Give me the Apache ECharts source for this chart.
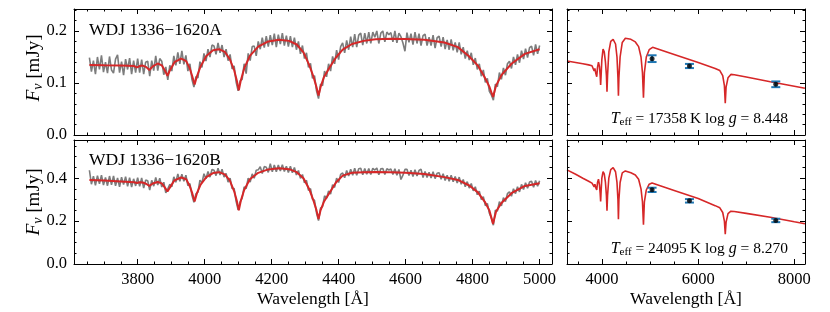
<!DOCTYPE html>
<html><head><meta charset="utf-8">
<script src="https://cdn.jsdelivr.net/npm/echarts@6/dist/echarts.min.js"></script>
<style>html,body{margin:0;padding:0;background:#fff}#c{width:830px;height:312px}</style>
</head><body><div id="c"></div>
<script>
// ---------------- DATA ----------------
const specStart = 3656, specStep = 6;   // observed spectra sampling (Angstrom)
const specA = [
.149,.122,.143,.117,.150,.126,.153,.121,.140,.119,
.151,.125,.119,.146,.154,.120,.141,.115,.146,.126,
.148,.117,.143,.120,.147,.120,.145,.117,.140,.142,
.113,.143,.124,.152,.124,.147,.142,.116,.131,.106,
.134,.123,.152,.134,.159,.137,.162,.136,.153,.123,
.137,.107,.092,.112,.110,.141,.130,.157,.142,.165,
.150,.173,.171,.155,.177,.158,.173,.150,.165,.143,
.155,.127,.133,.102,.085,.104,.107,.137,.118,.157,
.143,.170,.171,.152,.180,.165,.187,.168,.190,.170,
.192,.173,.195,.169,.193,.175,.196,.172,.191,.170,
.190,.169,.187,.164,.180,.156,.172,.147,.158,.130,
.138,.109,.114,.085,.070,.098,.095,.123,.112,.137,
.123,.151,.137,.163,.145,.170,.177,.158,.182,.164,
.189,.169,.194,.169,.192,.196,.173,.196,.176,.198,
.176,.198,.188,.200,.176,.196,.200,.179,.198,.193,
.197,.179,.200,.177,.196,.189,.177,.161,.197,.178,
.195,.174,.198,.176,.195,.172,.191,.194,.172,.188,
.172,.192,.167,.187,.190,.170,.188,.165,.183,.164,
.184,.163,.178,.159,.178,.155,.169,.147,.162,.144,
.158,.135,.148,.126,.137,.113,.125,.101,.109,.084,
.077,.067,.098,.093,.120,.107,.129,.115,.137,.142,
.128,.150,.135,.155,.139,.162,.146,.166,.149,.168,
.171,.153,.174,.156,.172];
const specB = [
.437,.372,.409,.367,.412,.374,.414,.368,.403,.365,
.410,.369,.411,.364,.401,.360,.405,.370,.407,.362,
.402,.359,.397,.364,.402,.362,.401,.354,.391,.388,
.345,.390,.363,.403,.368,.400,.359,.381,.332,.350,
.372,.360,.406,.381,.420,.385,.419,.386,.414,.365,
.375,.322,.288,.327,.335,.391,.378,.421,.397,.431,
.405,.441,.437,.412,.447,.415,.442,.405,.422,.382,
.400,.352,.352,.292,.252,.290,.307,.359,.352,.400,
.382,.420,.400,.437,.439,.454,.422,.454,.451,.427,
.468,.430,.462,.430,.462,.434,.463,.431,.456,.427,
.456,.425,.450,.415,.436,.399,.417,.379,.390,.343,
.351,.302,.297,.238,.202,.260,.267,.318,.306,.341,
.326,.370,.357,.400,.380,.418,.424,.402,.436,.410,
.442,.414,.446,.414,.444,.446,.416,.445,.418,.445,
.417,.446,.438,.447,.416,.444,.445,.417,.444,.438,
.443,.417,.444,.414,.441,.394,.414,.441,.442,.413,
.437,.408,.439,.410,.436,.442,.403,.431,.403,.427,
.401,.430,.398,.423,.425,.395,.421,.389,.414,.386,
.414,.383,.408,.378,.405,.372,.394,.360,.384,.354,
.375,.341,.360,.323,.340,.300,.314,.272,.282,.237,
.215,.181,.251,.247,.291,.271,.309,.291,.328,.337,
.316,.351,.328,.360,.336,.371,.347,.379,.353,.382,
.386,.358,.389,.362,.388];

// best-fit model spectra [wavelength, flux]
const modelA = [[3656,.1345],[3700,.1340],[3750,.1335],[3790,.1325],[3798,.1300],[3806,.1325],[3815,.1335],[3825,.1310],[3835,.1250],[3845,.1320],[3860,.1375],[3872,.1340],[3882,.1230],[3889,.1140],[3896,.1240],[3910,.1400],[3930,.1470],[3945,.1420],[3955,.1290],[3963,.1130],[3970,.0970],[3977,.1130],[3988,.1320],[4005,.1520],[4025,.1630],[4043,.1650],[4060,.1600],[4075,.1460],[4088,.1250],[4096,.1050],[4102,.0860],[4108,.1050],[4118,.1280],[4135,.1520],[4160,.1700],[4190,.1800],[4222,.1830],[4252,.1810],[4275,.1740],[4295,.1590],[4312,.1350],[4325,.1120],[4334,.0920],[4340,.0760],[4346,.0920],[4356,.1110],[4372,.1290],[4392,.1490],[4412,.1640],[4440,.1750],[4475,.1810],[4510,.1840],[4556,.1850],[4600,.1845],[4656,.1830],[4716,.1780],[4756,.1690],[4790,.1510],[4815,.1340],[4836,.1110],[4850,.0930],[4861,.0730],[4870,.0950],[4886,.1150],[4916,.1370],[4956,.1560],[5000,.1650]];
const modelB = [[3656,.392],[3700,.389],[3750,.385],[3790,.381],[3798,.378],[3806,.381],[3815,.380],[3825,.374],[3835,.364],[3845,.375],[3860,.382],[3872,.376],[3882,.355],[3889,.338],[3896,.356],[3910,.390],[3930,.403],[3945,.395],[3955,.365],[3963,.330],[3970,.291],[3977,.330],[3988,.370],[4005,.405],[4025,.424],[4043,.428],[4060,.418],[4075,.390],[4088,.340],[4096,.295],[4102,.250],[4108,.295],[4118,.345],[4135,.395],[4160,.425],[4190,.441],[4222,.446],[4252,.442],[4275,.428],[4295,.400],[4312,.350],[4325,.295],[4334,.250],[4340,.210],[4346,.250],[4356,.290],[4372,.330],[4392,.380],[4412,.412],[4440,.425],[4475,.428],[4510,.429],[4556,.428],[4600,.425],[4656,.419],[4716,.405],[4756,.392],[4790,.366],[4815,.335],[4836,.291],[4850,.250],[4861,.187],[4870,.245],[4886,.284],[4916,.330],[4956,.364],[5000,.376]];

// model SEDs [wavelength, flux]
const sedA = [[3270,.1423],[3450,.1395],[3600,.1370],[3720,.1348],[3790,.1333],[3800,.130],[3810,.132],[3835,.123],[3850,.128],[3870,.118],[3889,.112],[3905,.130],[3925,.140],[3945,.132],[3960,.115],[3970,.096],[3980,.115],[3995,.145],[4020,.165],[4045,.160],[4070,.140],[4090,.115],[4102,.083],[4114,.115],[4140,.160],[4180,.180],[4230,.184],[4280,.175],[4310,.150],[4330,.110],[4340,.0756],[4350,.110],[4375,.150],[4420,.178],[4484,.186],[4600,.184],[4692,.179],[4760,.170],[4810,.150],[4840,.120],[4861,.0718],[4880,.120],[4920,.150],[4980,.164],[5051,.1686],[5500,.1547],[6000,.1392],[6353,.128],[6450,.124],[6510,.114],[6545,.095],[6563,.061],[6580,.092],[6620,.110],[6680,.1165],[6750,.116],[7000,.1115],[7500,.1025],[8000,.0938],[8220,.0898]];
const sedB = [[3270,.4386],[3450,.418],[3600,.400],[3720,.386],[3790,.377],[3800,.372],[3810,.376],[3835,.360],[3850,.372],[3870,.355],[3889,.3456],[3905,.380],[3925,.395],[3945,.370],[3960,.330],[3970,.291],[3980,.340],[3995,.400],[4020,.431],[4045,.420],[4070,.380],[4090,.320],[4102,.248],[4114,.320],[4140,.400],[4180,.440],[4230,.449],[4280,.430],[4310,.380],[4330,.300],[4340,.209],[4350,.300],[4375,.380],[4420,.425],[4484,.434],[4600,.425],[4692,.415],[4760,.395],[4810,.350],[4840,.290],[4861,.183],[4880,.290],[4920,.345],[4980,.372],[5040,.378],[5500,.343],[6000,.305],[6353,.272],[6450,.262],[6510,.240],[6545,.200],[6563,.1395],[6580,.195],[6620,.235],[6680,.246],[6750,.245],[7000,.236],[7500,.218],[8000,.197],[8220,.188]];

// photometry
const photWave = [5040, 5818, 7614];
const photFluxA = [0.1468, 0.1327, 0.0975];
const photErrA = [0.0065, 0.004, 0.0055];
const photFluxB = [0.3456, 0.2944, 0.2030];
const photErrB = [0.010, 0.008, 0.008];

const names = ['WDJ 1336\u22121620A', 'WDJ 1336\u22121620B'];
const teff = ['17358', '24095'];
const logg = ['8.448', '8.270'];
const xTicksLeft = {min: 3610, max: 5037, major: 200, minor: 50};
const xTicksRight = {min: 3270, max: 8222, major: 2000, minor: 500};
const yTicksTop = {min: 0, max: 0.2423, major: 0.1, minor: 0.02};
const yTicksBot = {min: 0, max: 0.578, major: 0.2, minor: 0.05};

// ---------------- CHART ----------------
const FONT = '"Liberation Serif","DejaVu Serif",serif';
const RED = '#d62728', GRAY = '#7c7c7c', BLUE = '#1f77b4';
const chart = echarts.init(document.getElementById('c'), null, {renderer: 'canvas'});

const grids = [
  {left: 74, top: 9, width: 478, height: 126},
  {left: 74, top: 140, width: 478, height: 124},
  {left: 567, top: 9, width: 238, height: 126},
  {left: 567, top: 140, width: 238, height: 124}
].map(g => Object.assign({containLabel: false, outerBoundsMode: 'none'}, g));

const xAxis = [], yAxis = [];
const isMult = (v, s) => Math.abs(v / s - Math.round(v / s)) < 1e-6;

function axisSet(dim, gi, t, opts) {
  const list = dim === 'x' ? xAxis : yAxis;
  const positions = dim === 'x' ? ['bottom', 'top'] : ['left', 'right'];
  let mainIdx = -1;
  positions.forEach((pos, pi) => {
    [t.major, t.minor].forEach((step, si) => {
      const isMain = pi === 0 && si === 0;
      const ax = {
        type: 'value', gridIndex: gi, position: pos, min: t.min, max: t.max,
        minInterval: step, maxInterval: step,
        splitNumber: Math.max(1, Math.round((t.max - t.min) / step)),
        axisLine: {show: si === 0, onZero: false, lineStyle: {color: '#000', width: 1}},
        axisTick: {show: true, inside: true, length: si === 0 ? 5 : 2.5, lineStyle: {color: '#000', width: 1}},
        axisLabel: {show: false},
        splitLine: {show: false},
        z: 5
      };
      if (isMain && opts.labels) {
        ax.axisLabel = {
          show: true, margin: 7, color: '#000', fontFamily: FONT, fontSize: 16.5,
          showMinLabel: true, showMaxLabel: true,
          formatter: v => isMult(v, t.major) ? (dim === 'x' ? String(Math.round(v)) : v.toFixed(1)) : ''
        };
      }
      if (isMain && opts.name) {
        ax.name = opts.name;
        ax.nameLocation = 'middle';
        ax.nameGap = opts.nameGap;
        ax.nameMoveOverlap = false;
        ax.nameTextStyle = {color: '#000', fontFamily: FONT, fontSize: 17.5};
      }
      list.push(ax);
      if (isMain) mainIdx = list.length - 1;
    });
  });
  return mainIdx;
}

const WL = 'Wavelength [\u00c5]';
const ax = [
  {x: axisSet('x', 0, xTicksLeft, {labels: false}), y: axisSet('y', 0, yTicksTop, {labels: true})},
  {x: axisSet('x', 1, xTicksLeft, {labels: true, name: WL, nameGap: 26}), y: axisSet('y', 1, yTicksBot, {labels: true})},
  {x: axisSet('x', 2, xTicksRight, {labels: false}), y: axisSet('y', 2, yTicksTop, {labels: false})},
  {x: axisSet('x', 3, xTicksRight, {labels: true, name: WL, nameGap: 26}), y: axisSet('y', 3, yTicksBot, {labels: false})}
];

const specPts = arr => arr.map((f, i) => [specStart + i * specStep, f]);
const lineS = (k, data, color, width, z) => ({
  type: 'line', xAxisIndex: ax[k].x, yAxisIndex: ax[k].y, data: data,
  showSymbol: false, symbol: 'none', clip: true, animation: false, z: z,
  lineStyle: {color: color, width: width}, silent: true
});

function errSeries(k, flux, err) {
  return {
    type: 'custom', xAxisIndex: ax[k].x, yAxisIndex: ax[k].y, z: 8, animation: false,
    data: photWave.map((w, i) => [w, flux[i], err[i]]),
    renderItem: function (params, api) {
      const x = api.value(0), y = api.value(1), e = api.value(2);
      const p0 = api.coord([x, y - e]), p1 = api.coord([x, y + e]);
      const c = 4.5, st = {stroke: BLUE, lineWidth: 2};
      return {type: 'group', children: [
        {type: 'line', shape: {x1: p0[0], y1: p0[1], x2: p1[0], y2: p1[1]}, style: st},
        {type: 'line', shape: {x1: p0[0] - c, y1: p0[1], x2: p0[0] + c, y2: p0[1]}, style: st},
        {type: 'line', shape: {x1: p1[0] - c, y1: p1[1], x2: p1[0] + c, y2: p1[1]}, style: st}
      ]};
    }
  };
}
const dotS = (k, flux) => ({
  type: 'scatter', xAxisIndex: ax[k].x, yAxisIndex: ax[k].y, z: 9, animation: false,
  symbol: 'circle', symbolSize: 5, itemStyle: {color: '#000'},
  data: photWave.map((w, i) => [w, flux[i]])
});

const series = [
  lineS(0, specPts(specA), GRAY, 1.6, 2),
  lineS(0, modelA, RED, 2, 3),
  lineS(1, specPts(specB), GRAY, 1.6, 2),
  lineS(1, modelB, RED, 2, 3),
  lineS(2, sedA, RED, 1.6, 3),
  errSeries(2, photFluxA, photErrA), dotS(2, photFluxA),
  lineS(3, sedB, RED, 1.6, 3),
  errSeries(3, photFluxB, photErrB), dotS(3, photFluxB)
];

const richF = {
  i: {fontFamily: FONT, fontStyle: 'italic', fontSize: 19.5, color: '#000'},
  s: {fontFamily: FONT, fontStyle: 'italic', fontSize: 14, color: '#000', padding: [8, 0, 0, 0]},
  n: {fontFamily: FONT, fontSize: 19, color: '#000'}
};
const richT = {
  i: {fontFamily: FONT, fontStyle: 'italic', fontSize: 16, color: '#000'},
  s: {fontFamily: FONT, fontSize: 11, color: '#000', padding: [7, 0, 0, 0]},
  n: {fontFamily: FONT, fontSize: 15.5, color: '#000'}
};
const graphic = [];
[30, 160].forEach((y, k) => {
  graphic.push({type: 'text', x: 89, y: y, z: 20, style: {
    text: names[k], fill: '#000', font: '17.5px ' + FONT, align: 'left', verticalAlign: 'middle'}});
});
[119, 249].forEach((y, k) => {
  graphic.push({type: 'text', x: 788, y: y, z: 20, style: {
    text: '{i|T}{s|eff}{n| = ' + teff[k] + '\u2009K log }{i|g}{n| = ' + logg[k] + '}',
    rich: richT, fill: '#000', align: 'right', verticalAlign: 'middle'}});
});
[68, 202].forEach(y => {
  graphic.push({type: 'text', x: 34, y: y, rotation: Math.PI / 2, z: 20, style: {
    text: '{i|F}{s|\u03bd}{n| [mJy]}', rich: richF, fill: '#000', align: 'center', verticalAlign: 'middle'}});
});

chart.setOption({
  animation: false,
  backgroundColor: '#fff',
  grid: grids,
  xAxis: xAxis,
  yAxis: yAxis,
  series: series,
  graphic: graphic
});
</script>
</body></html>
